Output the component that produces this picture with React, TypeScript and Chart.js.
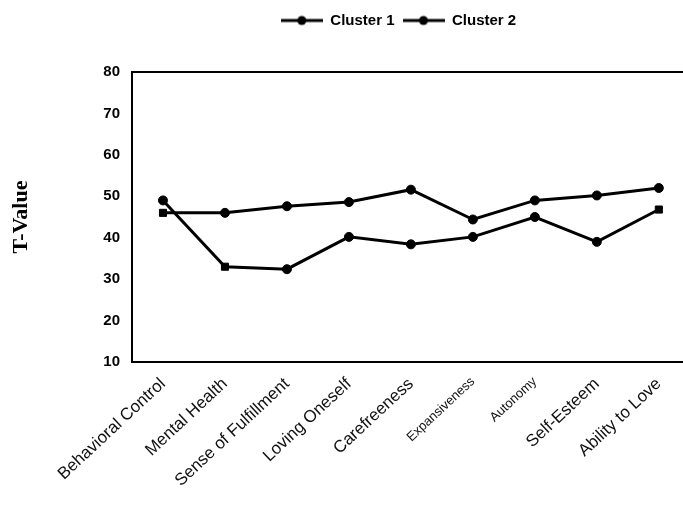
import React, { useEffect, useRef } from "react";
import { Chart, registerables } from "chart.js";

Chart.register(...registerables);

const categories = [
  "Behavioral Control",
  "Mental Health",
  "Sense of Fulfillment",
  "Loving Oneself",
  "Carefreeness",
  "Expansiveness",
  "Autonomy",
  "Self-Esteem",
  "Ability to Love",
];
const seriesNames = ["Cluster 1", "Cluster 2"];
const cluster1 = [46.0, 46.0, 47.6, 48.6, 51.6, 44.4, 49.0, 50.2, 52.0];
const cluster2 = [49.0, 33.0, 32.4, 40.2, 38.4, 40.2, 45.0, 39.0, 46.8];
const yTicks = [10, 20, 30, 40, 50, 60, 70, 80];
const yTitle = "T-Value";

function makeLegendMarker(): HTMLCanvasElement {
  const c = document.createElement("canvas");
  c.width = 42;
  c.height = 12;
  const g = c.getContext("2d")!;
  g.strokeStyle = "#000";
  g.lineWidth = 3;
  g.beginPath();
  g.moveTo(0, 6);
  g.lineTo(42, 6);
  g.stroke();
  g.fillStyle = "#000";
  g.beginPath();
  g.arc(21, 6, 4.5, 0, Math.PI * 2);
  g.fill();
  return c;
}

export default function App() {
  const ref = useRef<HTMLCanvasElement>(null);

  useEffect(() => {
    if (!ref.current) return;
    const marker = makeLegendMarker();
    const toPts = (arr: number[]) => arr.map((v, i) => ({ x: i, y: v }));

    const legendShift = {
      id: "legendShift",
      afterLayout(chart: any) {
        const lg = chart.legend;
        if (lg) {
          lg.left += 57;
          lg.right += 57;
        }
      },
    };

    const chart = new Chart(ref.current, {
      type: "line",
      data: {
        datasets: [
          {
            label: seriesNames[0],
            data: toPts(cluster1),
            borderColor: "#000",
            backgroundColor: "#000",
            borderWidth: 3,
            pointStyle: (ctx: any) => (ctx.dataIndex === 0 ? "rect" : "circle"),
            pointRadius: (ctx: any) => (ctx.dataIndex === 0 ? 5 : 4.5),
            pointBorderWidth: 1,
            tension: 0,
          },
          {
            label: seriesNames[1],
            data: toPts(cluster2),
            borderColor: "#000",
            backgroundColor: "#000",
            borderWidth: 3,
            pointStyle: (ctx: any) =>
              ctx.dataIndex === 1 || ctx.dataIndex === categories.length - 1 ? "rect" : "circle",
            pointRadius: (ctx: any) =>
              ctx.dataIndex === 1 || ctx.dataIndex === categories.length - 1 ? 5 : 4.5,
            pointBorderWidth: 1,
            tension: 0,
          },
        ],
      },
      options: {
        animation: false,
        responsive: false,
        devicePixelRatio: 1,
        layout: { autoPadding: false, padding: { left: 0, right: 0, top: 5, bottom: 0 } },
        plugins: {
          tooltip: { enabled: false },
          legend: {
            display: true,
            position: "top",
            labels: {
              usePointStyle: true,
              pointStyleWidth: 42,
              padding: 8,
              color: "#000",
              font: { family: "'Liberation Sans', Arial, sans-serif", size: 15, weight: "bold" },
              generateLabels: () =>
                seriesNames.map((name, i) => ({
                  text: name,
                  pointStyle: marker,
                  datasetIndex: i,
                  hidden: false,
                  lineWidth: 0,
                  strokeStyle: "rgba(0,0,0,0)",
                  fillStyle: "rgba(0,0,0,0)",
                  fontColor: "#000",
                })),
            },
          },
        },
        scales: {
          x: {
            type: "linear",
            position: "bottom",
            min: -0.5,
            max: 8.39,
            grid: { display: false, drawTicks: false },
            border: { display: true, color: "#000", width: 2 },
            ticks: {
              autoSkip: false,
              minRotation: 43,
              maxRotation: 43,
              padding: 12,
              color: "#111",
              font: (ctx: any) => ({
                family: "'Liberation Sans', Arial, sans-serif",
                size: ctx.index === 5 || ctx.index === 6 ? 13 : 17,
              }),
              callback: (v: any) => categories[Math.round(Number(v))] ?? "",
            },
            afterBuildTicks: (scale: any) => {
              scale.ticks = categories.map((_, i) => ({ value: i }));
            },
            afterFit: (scale: any) => {
              scale.height = 155;
              scale.paddingLeft = 0;
              scale.paddingRight = 0;
            },
          },
          xTop: {
            type: "linear",
            axis: "x",
            position: "top",
            display: true,
            grid: { display: false, drawTicks: false },
            ticks: { display: false },
            border: { display: true, color: "#000", width: 2 },
            afterFit: (scale: any) => {
              scale.height = 34;
              scale.paddingLeft = 0;
              scale.paddingRight = 0;
            },
          },
          y: {
            type: "linear",
            min: yTicks[0],
            max: yTicks[yTicks.length - 1],
            grid: { display: false, drawTicks: false },
            border: { display: true, color: "#000", width: 2 },
            ticks: {
              stepSize: yTicks[1] - yTicks[0],
              padding: 12,
              color: "#000",
              font: { family: "'Liberation Sans', Arial, sans-serif", size: 15, weight: "bold" },
            },
            title: {
              display: true,
              text: yTitle,
              color: "#000",
              padding: { top: 8, bottom: 0 },
              font: { family: "'Liberation Serif', 'Times New Roman', serif", size: 22, weight: "bold" },
            },
            afterFit: (scale: any) => {
              scale.width = 132;
            },
          },
        },
      },
      plugins: [legendShift],
    });
    return () => chart.destroy();
  }, []);

  return (
    <div style={{ position: "fixed", left: 0, top: 0, width: 683, height: 517, background: "#fff" }}>
      <canvas ref={ref} width={683} height={517} style={{ display: "block" }} />
    </div>
  );
}
